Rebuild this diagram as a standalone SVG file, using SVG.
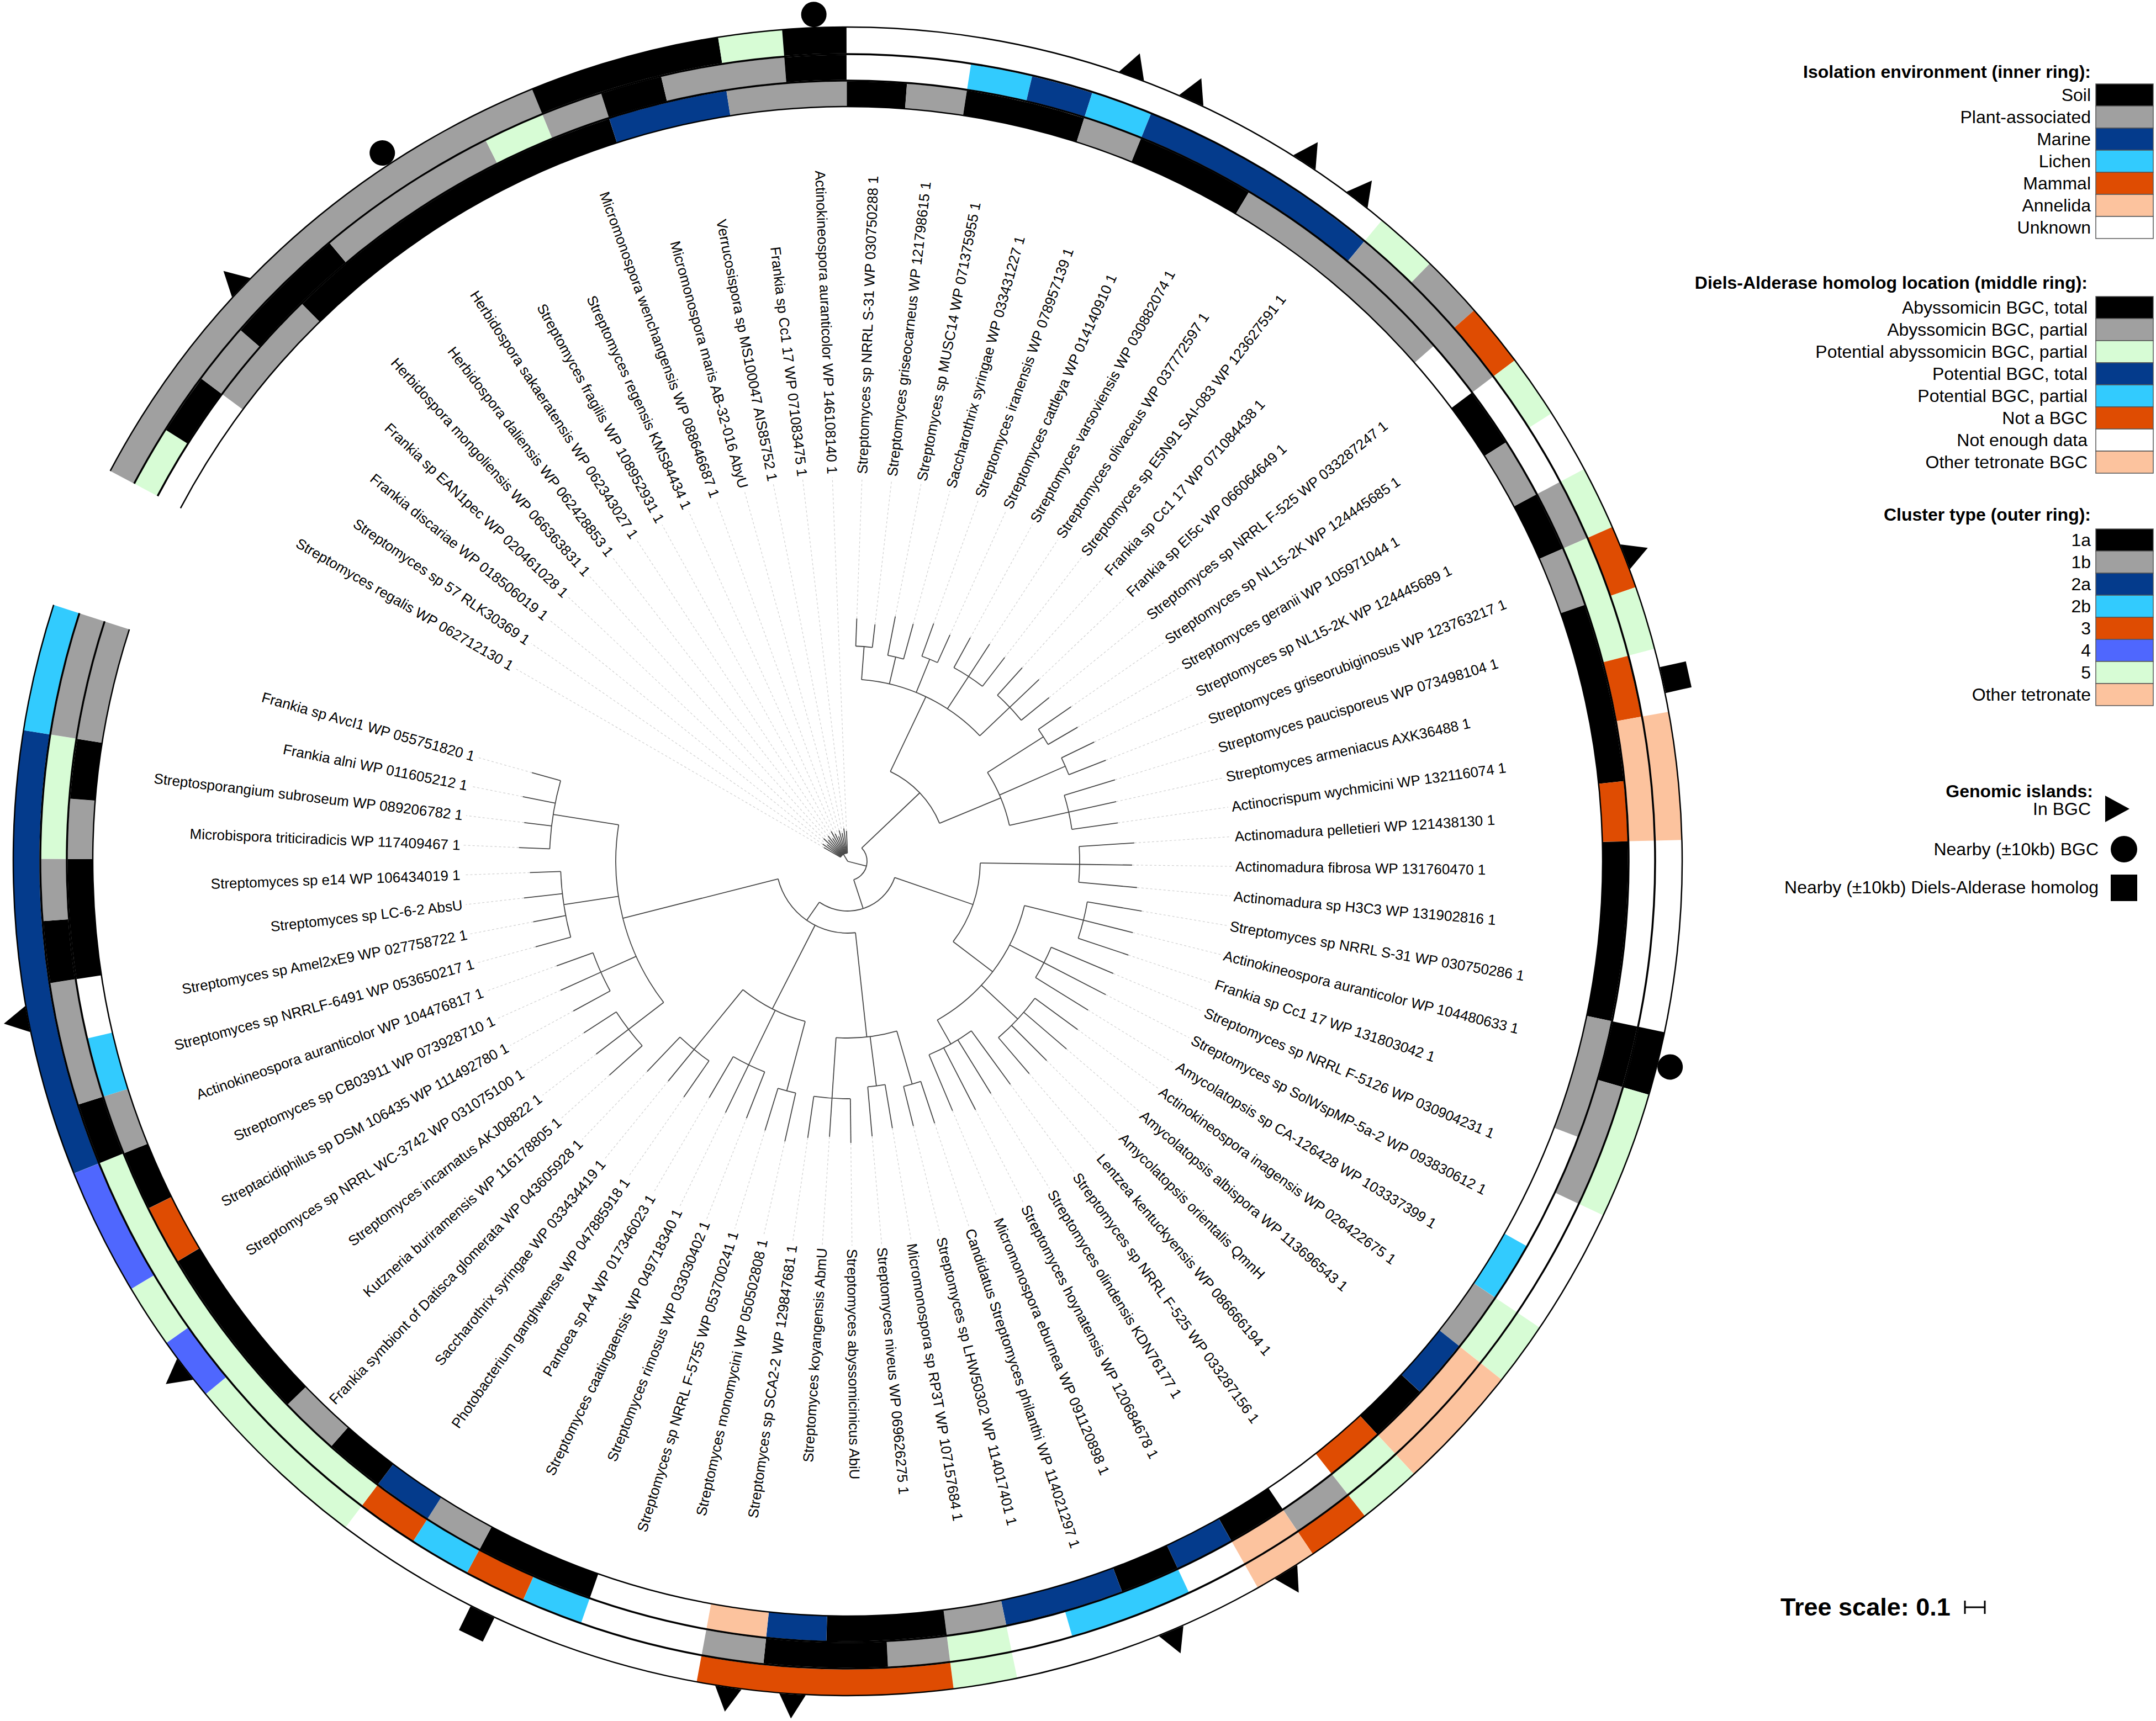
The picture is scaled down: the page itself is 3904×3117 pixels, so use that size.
<svg xmlns="http://www.w3.org/2000/svg" xmlns:xlink="http://www.w3.org/1999/xlink" width="3904" height="3117" viewBox="0 0 3904 3117">
<style>
.lbl{font-family:"Liberation Sans",Arial,sans-serif;font-size:26px;fill:#000;dominant-baseline:central}
.le{text-anchor:end}
.tr{stroke:#484848;stroke-width:1.8;fill:none}
.dt{stroke:#cfcfcf;stroke-width:1.2;stroke-dasharray:4 4;fill:none}
.k{stroke:#000}.g{stroke:#a0a0a0}.db{stroke:#043b8c}.lb{stroke:#32cbfe}.or{stroke:#df4c02}.lo{stroke:#fcc39e}.mb{stroke:#4f67fe}.lg{stroke:#d7fcd5}
.fk{fill:#000}.fg{fill:#a0a0a0}.fdb{fill:#043b8c}.flb{fill:#32cbfe}.for{fill:#df4c02}.flo{fill:#fcc39e}.fmb{fill:#4f67fe}.flg{fill:#d7fcd5}.fw{fill:#fff}
.sw{stroke:#555;stroke-width:1.5}
.leg{font-family:"Liberation Sans",Arial,sans-serif;font-size:32px;text-anchor:end;fill:#000}
.legt{font-weight:bold}
.ring{fill:none}
</style>
<defs>
<path id="pO" pathLength="360" d="M1487,0A1487,1487 0 1 1 -1487,0A1487,1487 0 1 1 1487,0"/>
<path id="pM" pathLength="360" d="M1438,0A1438,1438 0 1 1 -1438,0A1438,1438 0 1 1 1438,0"/>
<path id="pI" pathLength="360" d="M1390,0A1390,1390 0 1 1 -1390,0A1390,1390 0 1 1 1390,0"/>
<path id="tri" d="M1512,-24L1556,0L1512,24Z"/>
</defs>
<rect width="3904" height="3117" fill="#fff"/>
<g transform="translate(1535,1560)">
<g id="ring-outer" class="ring" stroke-width="47">
<use href="#pO" class="g" stroke-dasharray="39.87 360" transform="rotate(207.90)"/>
<use href="#pO" class="k" stroke-dasharray="13.29 360" transform="rotate(247.77)"/>
<use href="#pO" class="lg" stroke-dasharray="4.43 360" transform="rotate(261.06)"/>
<use href="#pO" class="k" stroke-dasharray="4.43 360" transform="rotate(265.49)"/>
<use href="#pO" class="lg" stroke-dasharray="4.43 360" transform="rotate(309.80)"/>
<use href="#pO" class="g" stroke-dasharray="4.43 360" transform="rotate(314.23)"/>
<use href="#pO" class="or" stroke-dasharray="4.43 360" transform="rotate(318.66)"/>
<use href="#pO" class="lg" stroke-dasharray="4.43 360" transform="rotate(323.09)"/>
<use href="#pO" class="lg" stroke-dasharray="4.43 360" transform="rotate(331.95)"/>
<use href="#pO" class="or" stroke-dasharray="4.43 360" transform="rotate(336.38)"/>
<use href="#pO" class="lg" stroke-dasharray="4.43 360" transform="rotate(340.81)"/>
<use href="#pO" class="lo" stroke-dasharray="8.86 360" transform="rotate(349.67)"/>
<use href="#pO" class="k" stroke-dasharray="4.43 360" transform="rotate(371.82)"/>
<use href="#pO" class="lg" stroke-dasharray="8.86 360" transform="rotate(376.25)"/>
<use href="#pO" class="lg" stroke-dasharray="4.43 360" transform="rotate(393.98)"/>
<use href="#pO" class="lo" stroke-dasharray="8.86 360" transform="rotate(398.41)"/>
<use href="#pO" class="lg" stroke-dasharray="4.43 360" transform="rotate(407.27)"/>
<use href="#pO" class="or" stroke-dasharray="4.43 360" transform="rotate(411.70)"/>
<use href="#pO" class="lo" stroke-dasharray="4.43 360" transform="rotate(416.13)"/>
<use href="#pO" class="lg" stroke-dasharray="4.43 360" transform="rotate(438.28)"/>
<use href="#pO" class="or" stroke-dasharray="17.72 360" transform="rotate(442.71)"/>
<use href="#pO" class="lg" stroke-dasharray="13.29 360" transform="rotate(487.01)"/>
<use href="#pO" class="mb" stroke-dasharray="4.43 360" transform="rotate(500.31)"/>
<use href="#pO" class="lg" stroke-dasharray="4.43 360" transform="rotate(504.74)"/>
<use href="#pO" class="mb" stroke-dasharray="8.86 360" transform="rotate(509.17)"/>
<use href="#pO" class="db" stroke-dasharray="31.01 360" transform="rotate(518.03)"/>
<use href="#pO" class="lb" stroke-dasharray="8.86 360" transform="rotate(549.04)"/>
</g>
<g id="ring-middle" class="ring" stroke-width="45">
<use href="#pM" class="lg" stroke-dasharray="4.43 360" transform="rotate(207.90)"/>
<use href="#pM" class="k" stroke-dasharray="4.43 360" transform="rotate(212.33)"/>
<use href="#pM" class="g" stroke-dasharray="4.43 360" transform="rotate(216.76)"/>
<use href="#pM" class="k" stroke-dasharray="8.86 360" transform="rotate(221.19)"/>
<use href="#pM" class="g" stroke-dasharray="13.29 360" transform="rotate(230.05)"/>
<use href="#pM" class="lg" stroke-dasharray="4.43 360" transform="rotate(243.34)"/>
<use href="#pM" class="g" stroke-dasharray="4.43 360" transform="rotate(247.77)"/>
<use href="#pM" class="k" stroke-dasharray="4.43 360" transform="rotate(252.20)"/>
<use href="#pM" class="g" stroke-dasharray="8.86 360" transform="rotate(256.63)"/>
<use href="#pM" class="k" stroke-dasharray="4.43 360" transform="rotate(265.49)"/>
<use href="#pM" class="lb" stroke-dasharray="4.43 360" transform="rotate(278.79)"/>
<use href="#pM" class="db" stroke-dasharray="4.43 360" transform="rotate(283.22)"/>
<use href="#pM" class="lb" stroke-dasharray="4.43 360" transform="rotate(287.65)"/>
<use href="#pM" class="db" stroke-dasharray="17.72 360" transform="rotate(292.08)"/>
<use href="#pM" class="g" stroke-dasharray="13.29 360" transform="rotate(309.80)"/>
<use href="#pM" class="g" stroke-dasharray="4.43 360" transform="rotate(331.95)"/>
<use href="#pM" class="lg" stroke-dasharray="8.86 360" transform="rotate(336.38)"/>
<use href="#pM" class="or" stroke-dasharray="4.43 360" transform="rotate(345.24)"/>
<use href="#pM" class="lo" stroke-dasharray="8.86 360" transform="rotate(349.67)"/>
<use href="#pM" class="k" stroke-dasharray="4.43 360" transform="rotate(371.82)"/>
<use href="#pM" class="g" stroke-dasharray="8.86 360" transform="rotate(376.25)"/>
<use href="#pM" class="lg" stroke-dasharray="4.43 360" transform="rotate(393.98)"/>
<use href="#pM" class="lo" stroke-dasharray="8.86 360" transform="rotate(398.41)"/>
<use href="#pM" class="lg" stroke-dasharray="4.43 360" transform="rotate(407.27)"/>
<use href="#pM" class="g" stroke-dasharray="4.43 360" transform="rotate(411.70)"/>
<use href="#pM" class="lo" stroke-dasharray="4.43 360" transform="rotate(416.13)"/>
<use href="#pM" class="lb" stroke-dasharray="8.86 360" transform="rotate(424.99)"/>
<use href="#pM" class="lg" stroke-dasharray="4.43 360" transform="rotate(438.28)"/>
<use href="#pM" class="g" stroke-dasharray="4.43 360" transform="rotate(442.71)"/>
<use href="#pM" class="k" stroke-dasharray="8.86 360" transform="rotate(447.14)"/>
<use href="#pM" class="g" stroke-dasharray="4.43 360" transform="rotate(456.00)"/>
<use href="#pM" class="lb" stroke-dasharray="4.43 360" transform="rotate(469.29)"/>
<use href="#pM" class="or" stroke-dasharray="4.43 360" transform="rotate(473.72)"/>
<use href="#pM" class="lb" stroke-dasharray="4.43 360" transform="rotate(478.15)"/>
<use href="#pM" class="or" stroke-dasharray="4.43 360" transform="rotate(482.58)"/>
<use href="#pM" class="lg" stroke-dasharray="31.01 360" transform="rotate(487.01)"/>
<use href="#pM" class="k" stroke-dasharray="4.43 360" transform="rotate(518.03)"/>
<use href="#pM" class="g" stroke-dasharray="8.86 360" transform="rotate(522.46)"/>
<use href="#pM" class="k" stroke-dasharray="4.43 360" transform="rotate(531.32)"/>
<use href="#pM" class="g" stroke-dasharray="4.43 360" transform="rotate(535.75)"/>
<use href="#pM" class="lg" stroke-dasharray="8.86 360" transform="rotate(540.18)"/>
<use href="#pM" class="g" stroke-dasharray="8.86 360" transform="rotate(549.04)"/>
</g>
<g id="ring-inner" class="ring" stroke-width="45">
<use href="#pI" class="g" stroke-dasharray="8.86 360" transform="rotate(216.76)"/>
<use href="#pI" class="k" stroke-dasharray="26.58 360" transform="rotate(225.62)"/>
<use href="#pI" class="db" stroke-dasharray="8.86 360" transform="rotate(252.20)"/>
<use href="#pI" class="g" stroke-dasharray="8.86 360" transform="rotate(261.06)"/>
<use href="#pI" class="k" stroke-dasharray="4.43 360" transform="rotate(269.93)"/>
<use href="#pI" class="g" stroke-dasharray="4.43 360" transform="rotate(274.36)"/>
<use href="#pI" class="k" stroke-dasharray="8.86 360" transform="rotate(278.79)"/>
<use href="#pI" class="g" stroke-dasharray="4.43 360" transform="rotate(287.65)"/>
<use href="#pI" class="k" stroke-dasharray="8.86 360" transform="rotate(292.08)"/>
<use href="#pI" class="g" stroke-dasharray="17.72 360" transform="rotate(300.94)"/>
<use href="#pI" class="k" stroke-dasharray="4.43 360" transform="rotate(323.09)"/>
<use href="#pI" class="g" stroke-dasharray="4.43 360" transform="rotate(327.52)"/>
<use href="#pI" class="k" stroke-dasharray="4.43 360" transform="rotate(331.95)"/>
<use href="#pI" class="g" stroke-dasharray="4.43 360" transform="rotate(336.38)"/>
<use href="#pI" class="k" stroke-dasharray="13.29 360" transform="rotate(340.81)"/>
<use href="#pI" class="or" stroke-dasharray="4.43 360" transform="rotate(354.10)"/>
<use href="#pI" class="k" stroke-dasharray="13.29 360" transform="rotate(358.53)"/>
<use href="#pI" class="g" stroke-dasharray="8.86 360" transform="rotate(371.82)"/>
<use href="#pI" class="lb" stroke-dasharray="4.43 360" transform="rotate(389.55)"/>
<use href="#pI" class="g" stroke-dasharray="4.43 360" transform="rotate(393.98)"/>
<use href="#pI" class="db" stroke-dasharray="4.43 360" transform="rotate(398.41)"/>
<use href="#pI" class="k" stroke-dasharray="4.43 360" transform="rotate(402.84)"/>
<use href="#pI" class="or" stroke-dasharray="4.43 360" transform="rotate(407.27)"/>
<use href="#pI" class="k" stroke-dasharray="4.43 360" transform="rotate(416.13)"/>
<use href="#pI" class="db" stroke-dasharray="4.43 360" transform="rotate(420.56)"/>
<use href="#pI" class="k" stroke-dasharray="4.43 360" transform="rotate(424.99)"/>
<use href="#pI" class="db" stroke-dasharray="8.86 360" transform="rotate(429.42)"/>
<use href="#pI" class="g" stroke-dasharray="4.43 360" transform="rotate(438.28)"/>
<use href="#pI" class="k" stroke-dasharray="8.86 360" transform="rotate(442.71)"/>
<use href="#pI" class="db" stroke-dasharray="4.43 360" transform="rotate(451.57)"/>
<use href="#pI" class="lo" stroke-dasharray="4.43 360" transform="rotate(456.00)"/>
<use href="#pI" class="k" stroke-dasharray="8.86 360" transform="rotate(469.29)"/>
<use href="#pI" class="g" stroke-dasharray="4.43 360" transform="rotate(478.15)"/>
<use href="#pI" class="db" stroke-dasharray="4.43 360" transform="rotate(482.58)"/>
<use href="#pI" class="k" stroke-dasharray="4.43 360" transform="rotate(487.01)"/>
<use href="#pI" class="g" stroke-dasharray="4.43 360" transform="rotate(491.44)"/>
<use href="#pI" class="k" stroke-dasharray="13.29 360" transform="rotate(495.87)"/>
<use href="#pI" class="or" stroke-dasharray="4.43 360" transform="rotate(509.17)"/>
<use href="#pI" class="k" stroke-dasharray="4.43 360" transform="rotate(513.60)"/>
<use href="#pI" class="g" stroke-dasharray="4.43 360" transform="rotate(518.03)"/>
<use href="#pI" class="lb" stroke-dasharray="4.43 360" transform="rotate(522.46)"/>
<use href="#pI" class="k" stroke-dasharray="8.86 360" transform="rotate(531.32)"/>
<use href="#pI" class="g" stroke-dasharray="4.43 360" transform="rotate(540.18)"/>
<use href="#pI" class="k" stroke-dasharray="4.43 360" transform="rotate(544.61)"/>
<use href="#pI" class="g" stroke-dasharray="8.86 360" transform="rotate(549.04)"/>
</g>
<g id="ring-lines" fill="none" stroke="#000" transform="rotate(207.9)">
<path pathLength="360" stroke-dasharray="350 360" stroke-width="2.5" d="M1511,0A1511,1511 0 1 1 -1511,0A1511,1511 0 1 1 1511,0"/>
<path pathLength="360" stroke-dasharray="350 360" stroke-width="3.5" d="M1462,0A1462,1462 0 1 1 -1462,0A1462,1462 0 1 1 1462,0"/>
<path pathLength="360" stroke-dasharray="350 360" stroke-width="3.5" d="M1414,0A1414,1414 0 1 1 -1414,0A1414,1414 0 1 1 1414,0"/>
<path pathLength="360" stroke-dasharray="350 360" stroke-width="2.5" d="M1367,0A1367,1367 0 1 1 -1367,0A1367,1367 0 1 1 1367,0"/>
</g>
<g id="markers" fill="#000">
<use href="#tri" transform="rotate(223.41)"/>
<use href="#tri" transform="rotate(289.87)"/>
<use href="#tri" transform="rotate(294.30)"/>
<use href="#tri" transform="rotate(303.16)"/>
<use href="#tri" transform="rotate(307.59)"/>
<use href="#tri" transform="rotate(338.60)"/>
<use href="#tri" transform="rotate(418.34)"/>
<use href="#tri" transform="rotate(427.21)"/>
<use href="#tri" transform="rotate(453.79)"/>
<use href="#tri" transform="rotate(458.22)"/>
<use href="#tri" transform="rotate(502.52)"/>
<use href="#tri" transform="rotate(529.11)"/>
<circle cx="1535" cy="0" r="23" transform="rotate(236.70)"/>
<circle cx="1535" cy="0" r="23" transform="rotate(267.71)"/>
<circle cx="1535" cy="0" r="23" transform="rotate(374.04)"/>
<rect x="1512" y="-24" width="48" height="48" transform="rotate(347.46)"/>
<rect x="1512" y="-24" width="48" height="48" transform="rotate(475.94)"/>
</g>
<g id="tree">
<g class="tr">
<path transform="rotate(238.9)" d="M0,0H15"/>
<path transform="rotate(374.2)" d="M0,0H35"/>
<path transform="rotate(316.45)" d="M35,0H180"/>
<path transform="rotate(431.9)" d="M35,0H90"/>
<path transform="rotate(295.4)" d="M180,0H330"/>
<path transform="rotate(337.5)" d="M180,0H300"/>
<path transform="rotate(274.36)" d="M330,0H390"/>
<path transform="rotate(283.22)" d="M330,0H380"/>
<path transform="rotate(292.08)" d="M330,0H395"/>
<path transform="rotate(303.16)" d="M330,0H400"/>
<path transform="rotate(316.45)" d="M330,0H405"/>
<path transform="rotate(327.53)" d="M300,0H420"/>
<path transform="rotate(336.39)" d="M300,0H430"/>
<path transform="rotate(347.46)" d="M300,0H410"/>
<path transform="rotate(379.03)" d="M90,0H240"/>
<path transform="rotate(484.8)" d="M90,0H130"/>
<path transform="rotate(360.75)" d="M240,0H420"/>
<path transform="rotate(397.3)" d="M240,0H330"/>
<path transform="rotate(374.04)" d="M330,0H440"/>
<path transform="rotate(387.33)" d="M330,0H400"/>
<path transform="rotate(402.84)" d="M330,0H420"/>
<path transform="rotate(420.56)" d="M330,0H380"/>
<path transform="rotate(443.8)" d="M130,0H320"/>
<path transform="rotate(477.05)" d="M130,0H300"/>
<path transform="rotate(525.8)" d="M130,0H420"/>
<path transform="rotate(433.86)" d="M320,0H420"/>
<path transform="rotate(442.72)" d="M320,0H410"/>
<path transform="rotate(453.79)" d="M320,0H430"/>
<path transform="rotate(464.87)" d="M300,0H430"/>
<path transform="rotate(475.94)" d="M300,0H410"/>
<path transform="rotate(489.23)" d="M300,0H440"/>
<path transform="rotate(502.52)" d="M420,0H500"/>
<path transform="rotate(515.81)" d="M420,0H490"/>
<path transform="rotate(531.33)" d="M420,0H520"/>
<path transform="rotate(549.05)" d="M420,0H540"/>
<path pathLength="360" stroke-dasharray="57.59 360" transform="rotate(210.12)" d="M15,0A15,15 0 1 1 -15,0A15,15 0 1 1 15,0"/>
<path pathLength="360" stroke-dasharray="115.45 360" transform="rotate(316.45)" d="M35,0A35,35 0 1 1 -35,0A35,35 0 1 1 35,0"/>
<path pathLength="360" stroke-dasharray="42.1 360" transform="rotate(295.4)" d="M180,0A180,180 0 1 1 -180,0A180,180 0 1 1 180,0"/>
<path pathLength="360" stroke-dasharray="105.77 360" transform="rotate(379.03)" d="M90,0A90,90 0 1 1 -90,0A90,90 0 1 1 90,0"/>
<path pathLength="360" stroke-dasharray="42.09 360" transform="rotate(274.36)" d="M330,0A330,330 0 1 1 -330,0A330,330 0 1 1 330,0"/>
<path pathLength="360" stroke-dasharray="19.93 360" transform="rotate(327.53)" d="M300,0A300,300 0 1 1 -300,0A300,300 0 1 1 300,0"/>
<path pathLength="360" stroke-dasharray="4.43 360" transform="rotate(272.14)" d="M390,0A390,390 0 1 1 -390,0A390,390 0 1 1 390,0"/>
<path pathLength="360" stroke-dasharray="4.43 360" transform="rotate(281.00)" d="M380,0A380,380 0 1 1 -380,0A380,380 0 1 1 380,0"/>
<path pathLength="360" stroke-dasharray="4.43 360" transform="rotate(289.87)" d="M395,0A395,395 0 1 1 -395,0A395,395 0 1 1 395,0"/>
<path pathLength="360" stroke-dasharray="8.86 360" transform="rotate(298.73)" d="M400,0A400,400 0 1 1 -400,0A400,400 0 1 1 400,0"/>
<path pathLength="360" stroke-dasharray="8.86 360" transform="rotate(312.02)" d="M405,0A405,405 0 1 1 -405,0A405,405 0 1 1 405,0"/>
<path pathLength="360" stroke-dasharray="4.43 360" transform="rotate(325.31)" d="M420,0A420,420 0 1 1 -420,0A420,420 0 1 1 420,0"/>
<path pathLength="360" stroke-dasharray="4.43 360" transform="rotate(334.17)" d="M430,0A430,430 0 1 1 -430,0A430,430 0 1 1 430,0"/>
<path pathLength="360" stroke-dasharray="8.86 360" transform="rotate(343.03)" d="M410,0A410,410 0 1 1 -410,0A410,410 0 1 1 410,0"/>
<path pathLength="360" stroke-dasharray="36.55 360" transform="rotate(360.75)" d="M240,0A240,240 0 1 1 -240,0A240,240 0 1 1 240,0"/>
<path pathLength="360" stroke-dasharray="82 360" transform="rotate(443.8)" d="M130,0A130,130 0 1 1 -130,0A130,130 0 1 1 130,0"/>
<path pathLength="360" stroke-dasharray="8.86 360" transform="rotate(356.32)" d="M420,0A420,420 0 1 1 -420,0A420,420 0 1 1 420,0"/>
<path pathLength="360" stroke-dasharray="46.52 360" transform="rotate(374.04)" d="M330,0A330,330 0 1 1 -330,0A330,330 0 1 1 330,0"/>
<path pathLength="360" stroke-dasharray="8.86 360" transform="rotate(369.61)" d="M440,0A440,440 0 1 1 -440,0A440,440 0 1 1 440,0"/>
<path pathLength="360" stroke-dasharray="8.86 360" transform="rotate(382.90)" d="M400,0A400,400 0 1 1 -400,0A400,400 0 1 1 400,0"/>
<path pathLength="360" stroke-dasharray="13.29 360" transform="rotate(396.19)" d="M420,0A420,420 0 1 1 -420,0A420,420 0 1 1 420,0"/>
<path pathLength="360" stroke-dasharray="13.3 360" transform="rotate(413.91)" d="M380,0A380,380 0 1 1 -380,0A380,380 0 1 1 380,0"/>
<path pathLength="360" stroke-dasharray="19.93 360" transform="rotate(433.86)" d="M320,0A320,320 0 1 1 -320,0A320,320 0 1 1 320,0"/>
<path pathLength="360" stroke-dasharray="24.36 360" transform="rotate(464.87)" d="M300,0A300,300 0 1 1 -300,0A300,300 0 1 1 300,0"/>
<path pathLength="360" stroke-dasharray="46.53 360" transform="rotate(502.52)" d="M420,0A420,420 0 1 1 -420,0A420,420 0 1 1 420,0"/>
<path pathLength="360" stroke-dasharray="4.43 360" transform="rotate(431.64)" d="M420,0A420,420 0 1 1 -420,0A420,420 0 1 1 420,0"/>
<path pathLength="360" stroke-dasharray="4.43 360" transform="rotate(440.50)" d="M410,0A410,410 0 1 1 -410,0A410,410 0 1 1 410,0"/>
<path pathLength="360" stroke-dasharray="8.86 360" transform="rotate(449.36)" d="M430,0A430,430 0 1 1 -430,0A430,430 0 1 1 430,0"/>
<path pathLength="360" stroke-dasharray="4.43 360" transform="rotate(462.65)" d="M430,0A430,430 0 1 1 -430,0A430,430 0 1 1 430,0"/>
<path pathLength="360" stroke-dasharray="8.86 360" transform="rotate(471.51)" d="M410,0A410,410 0 1 1 -410,0A410,410 0 1 1 410,0"/>
<path pathLength="360" stroke-dasharray="8.86 360" transform="rotate(484.80)" d="M440,0A440,440 0 1 1 -440,0A440,440 0 1 1 440,0"/>
<path pathLength="360" stroke-dasharray="8.86 360" transform="rotate(498.09)" d="M500,0A500,500 0 1 1 -500,0A500,500 0 1 1 500,0"/>
<path pathLength="360" stroke-dasharray="8.86 360" transform="rotate(511.38)" d="M490,0A490,490 0 1 1 -490,0A490,490 0 1 1 490,0"/>
<path pathLength="360" stroke-dasharray="13.29 360" transform="rotate(524.68)" d="M520,0A520,520 0 1 1 -520,0A520,520 0 1 1 520,0"/>
<path pathLength="360" stroke-dasharray="13.29 360" transform="rotate(542.40)" d="M540,0A540,540 0 1 1 -540,0A540,540 0 1 1 540,0"/>
</g>
<g transform="rotate(210.12)"><path class="tr" d="M15,0H50"/><path class="dt" d="M50,0H696"/></g>
<g transform="rotate(214.55)"><path class="tr" d="M15,0H55"/><path class="dt" d="M55,0H696"/></g>
<g transform="rotate(218.98)"><path class="tr" d="M15,0H48"/><path class="dt" d="M48,0H696"/></g>
<g transform="rotate(223.41)"><path class="tr" d="M15,0H60"/><path class="dt" d="M60,0H696"/></g>
<g transform="rotate(227.84)"><path class="tr" d="M15,0H52"/><path class="dt" d="M52,0H696"/></g>
<g transform="rotate(232.27)"><path class="tr" d="M15,0H58"/><path class="dt" d="M58,0H696"/></g>
<g transform="rotate(236.70)"><path class="tr" d="M15,0H50"/><path class="dt" d="M50,0H696"/></g>
<g transform="rotate(241.13)"><path class="tr" d="M15,0H62"/><path class="dt" d="M62,0H696"/></g>
<g transform="rotate(245.56)"><path class="tr" d="M15,0H55"/><path class="dt" d="M55,0H696"/></g>
<g transform="rotate(249.99)"><path class="tr" d="M15,0H48"/><path class="dt" d="M48,0H696"/></g>
<g transform="rotate(254.42)"><path class="tr" d="M15,0H58"/><path class="dt" d="M58,0H696"/></g>
<g transform="rotate(258.85)"><path class="tr" d="M15,0H52"/><path class="dt" d="M52,0H696"/></g>
<g transform="rotate(263.28)"><path class="tr" d="M15,0H60"/><path class="dt" d="M60,0H696"/></g>
<g transform="rotate(267.71)"><path class="tr" d="M15,0H55"/><path class="dt" d="M55,0H696"/></g>
<g transform="rotate(272.14)"><path class="tr" d="M390,0H440"/><path class="dt" d="M440,0H696"/></g>
<g transform="rotate(276.57)"><path class="tr" d="M390,0H432"/><path class="dt" d="M432,0H696"/></g>
<g transform="rotate(281.00)"><path class="tr" d="M380,0H452"/><path class="dt" d="M452,0H696"/></g>
<g transform="rotate(285.43)"><path class="tr" d="M380,0H446"/><path class="dt" d="M446,0H696"/></g>
<g transform="rotate(289.87)"><path class="tr" d="M395,0H458"/><path class="dt" d="M458,0H696"/></g>
<g transform="rotate(294.30)"><path class="tr" d="M395,0H450"/><path class="dt" d="M450,0H696"/></g>
<g transform="rotate(298.73)"><path class="tr" d="M400,0H462"/><path class="dt" d="M462,0H696"/></g>
<g transform="rotate(303.16)"><path class="tr" d="M400,0H470"/><path class="dt" d="M470,0H696"/></g>
<g transform="rotate(307.59)"><path class="tr" d="M400,0H466"/><path class="dt" d="M466,0H696"/></g>
<g transform="rotate(312.02)"><path class="tr" d="M405,0H472"/><path class="dt" d="M472,0H696"/></g>
<g transform="rotate(316.45)"><path class="tr" d="M405,0H478"/><path class="dt" d="M478,0H696"/></g>
<g transform="rotate(320.88)"><path class="tr" d="M405,0H470"/><path class="dt" d="M470,0H696"/></g>
<g transform="rotate(325.31)"><path class="tr" d="M420,0H492"/><path class="dt" d="M492,0H696"/></g>
<g transform="rotate(329.74)"><path class="tr" d="M420,0H482"/><path class="dt" d="M482,0H696"/></g>
<g transform="rotate(334.17)"><path class="tr" d="M430,0H496"/><path class="dt" d="M496,0H696"/></g>
<g transform="rotate(338.60)"><path class="tr" d="M430,0H502"/><path class="dt" d="M502,0H696"/></g>
<g transform="rotate(343.03)"><path class="tr" d="M410,0H506"/><path class="dt" d="M506,0H696"/></g>
<g transform="rotate(347.46)"><path class="tr" d="M410,0H498"/><path class="dt" d="M498,0H696"/></g>
<g transform="rotate(351.89)"><path class="tr" d="M410,0H494"/><path class="dt" d="M494,0H696"/></g>
<g transform="rotate(356.32)"><path class="tr" d="M420,0H520"/><path class="dt" d="M520,0H696"/></g>
<g transform="rotate(360.75)"><path class="tr" d="M420,0H515"/><path class="dt" d="M515,0H696"/></g>
<g transform="rotate(365.18)"><path class="tr" d="M420,0H526"/><path class="dt" d="M526,0H696"/></g>
<g transform="rotate(369.61)"><path class="tr" d="M440,0H540"/><path class="dt" d="M540,0H696"/></g>
<g transform="rotate(374.04)"><path class="tr" d="M440,0H532"/><path class="dt" d="M532,0H696"/></g>
<g transform="rotate(378.47)"><path class="tr" d="M440,0H536"/><path class="dt" d="M536,0H696"/></g>
<g transform="rotate(382.90)"><path class="tr" d="M400,0H522"/><path class="dt" d="M522,0H696"/></g>
<g transform="rotate(387.33)"><path class="tr" d="M400,0H526"/><path class="dt" d="M526,0H696"/></g>
<g transform="rotate(391.76)"><path class="tr" d="M400,0H512"/><path class="dt" d="M512,0H696"/></g>
<g transform="rotate(396.19)"><path class="tr" d="M420,0H516"/><path class="dt" d="M516,0H696"/></g>
<g transform="rotate(400.62)"><path class="tr" d="M420,0H522"/><path class="dt" d="M522,0H696"/></g>
<g transform="rotate(405.05)"><path class="tr" d="M420,0H510"/><path class="dt" d="M510,0H696"/></g>
<g transform="rotate(409.48)"><path class="tr" d="M420,0H506"/><path class="dt" d="M506,0H696"/></g>
<g transform="rotate(413.91)"><path class="tr" d="M380,0H500"/><path class="dt" d="M500,0H696"/></g>
<g transform="rotate(418.34)"><path class="tr" d="M380,0H494"/><path class="dt" d="M494,0H696"/></g>
<g transform="rotate(422.78)"><path class="tr" d="M380,0H506"/><path class="dt" d="M506,0H696"/></g>
<g transform="rotate(427.21)"><path class="tr" d="M380,0H490"/><path class="dt" d="M490,0H696"/></g>
<g transform="rotate(431.64)"><path class="tr" d="M420,0H500"/><path class="dt" d="M500,0H696"/></g>
<g transform="rotate(436.07)"><path class="tr" d="M420,0H494"/><path class="dt" d="M494,0H696"/></g>
<g transform="rotate(440.50)"><path class="tr" d="M410,0H490"/><path class="dt" d="M490,0H696"/></g>
<g transform="rotate(444.93)"><path class="tr" d="M410,0H500"/><path class="dt" d="M500,0H696"/></g>
<g transform="rotate(449.36)"><path class="tr" d="M430,0H510"/><path class="dt" d="M510,0H696"/></g>
<g transform="rotate(453.79)"><path class="tr" d="M430,0H500"/><path class="dt" d="M500,0H696"/></g>
<g transform="rotate(458.22)"><path class="tr" d="M430,0H506"/><path class="dt" d="M506,0H696"/></g>
<g transform="rotate(462.65)"><path class="tr" d="M430,0H520"/><path class="dt" d="M520,0H696"/></g>
<g transform="rotate(467.08)"><path class="tr" d="M430,0H510"/><path class="dt" d="M510,0H696"/></g>
<g transform="rotate(471.51)"><path class="tr" d="M410,0H500"/><path class="dt" d="M500,0H696"/></g>
<g transform="rotate(475.94)"><path class="tr" d="M410,0H506"/><path class="dt" d="M506,0H696"/></g>
<g transform="rotate(480.37)"><path class="tr" d="M410,0H496"/><path class="dt" d="M496,0H696"/></g>
<g transform="rotate(484.80)"><path class="tr" d="M440,0H520"/><path class="dt" d="M520,0H696"/></g>
<g transform="rotate(489.23)"><path class="tr" d="M440,0H514"/><path class="dt" d="M514,0H696"/></g>
<g transform="rotate(493.66)"><path class="tr" d="M440,0H526"/><path class="dt" d="M526,0H696"/></g>
<g transform="rotate(498.09)"><path class="tr" d="M500,0H580"/><path class="dt" d="M580,0H696"/></g>
<g transform="rotate(502.52)"><path class="tr" d="M500,0H574"/><path class="dt" d="M574,0H696"/></g>
<g transform="rotate(506.95)"><path class="tr" d="M500,0H570"/><path class="dt" d="M570,0H696"/></g>
<g transform="rotate(511.38)"><path class="tr" d="M490,0H566"/><path class="dt" d="M566,0H696"/></g>
<g transform="rotate(515.81)"><path class="tr" d="M490,0H570"/><path class="dt" d="M570,0H696"/></g>
<g transform="rotate(520.24)"><path class="tr" d="M490,0H560"/><path class="dt" d="M560,0H696"/></g>
<g transform="rotate(524.68)"><path class="tr" d="M520,0H586"/><path class="dt" d="M586,0H696"/></g>
<g transform="rotate(529.11)"><path class="tr" d="M520,0H580"/><path class="dt" d="M580,0H696"/></g>
<g transform="rotate(533.54)"><path class="tr" d="M520,0H590"/><path class="dt" d="M590,0H696"/></g>
<g transform="rotate(537.97)"><path class="tr" d="M520,0H576"/><path class="dt" d="M576,0H696"/></g>
<g transform="rotate(542.40)"><path class="tr" d="M540,0H596"/><path class="dt" d="M596,0H696"/></g>
<g transform="rotate(546.83)"><path class="tr" d="M540,0H590"/><path class="dt" d="M590,0H696"/></g>
<g transform="rotate(551.26)"><path class="tr" d="M540,0H600"/><path class="dt" d="M600,0H696"/></g>
<g transform="rotate(555.69)"><path class="tr" d="M540,0H594"/><path class="dt" d="M594,0H696"/></g>
</g>
<g id="labels">
<g id="leaf0"><text class="lbl le" transform="rotate(210.12) translate(702,0) rotate(180)">Streptomyces regalis WP 062712130 1</text></g>
<g id="leaf1"><text class="lbl le" transform="rotate(214.55) translate(702,0) rotate(180)">Streptomyces sp 57 RLK30369 1</text></g>
<g id="leaf2"><text class="lbl le" transform="rotate(218.98) translate(702,0) rotate(180)">Frankia discariae WP 018506019 1</text></g>
<g id="leaf3"><text class="lbl le" transform="rotate(223.41) translate(702,0) rotate(180)">Frankia sp EAN1pec WP 020461028 1</text></g>
<g id="leaf4"><text class="lbl le" transform="rotate(227.84) translate(702,0) rotate(180)">Herbidospora mongoliensis WP 066363831 1</text></g>
<g id="leaf5"><text class="lbl le" transform="rotate(232.27) translate(702,0) rotate(180)">Herbidospora daliensis WP 062428853 1</text></g>
<g id="leaf6"><text class="lbl le" transform="rotate(236.70) translate(702,0) rotate(180)">Herbidospora sakaeratensis WP 062343027 1</text></g>
<g id="leaf7"><text class="lbl le" transform="rotate(241.13) translate(702,0) rotate(180)">Streptomyces fragilis WP 108952931 1</text></g>
<g id="leaf8"><text class="lbl le" transform="rotate(245.56) translate(702,0) rotate(180)">Streptomyces regensis KMS84434 1</text></g>
<g id="leaf9"><text class="lbl le" transform="rotate(249.99) translate(702,0) rotate(180)">Micromonospora wenchangensis WP 088646687 1</text></g>
<g id="leaf10"><text class="lbl le" transform="rotate(254.42) translate(702,0) rotate(180)">Micromonospora maris AB-32-016 AbyU</text></g>
<g id="leaf11"><text class="lbl le" transform="rotate(258.85) translate(702,0) rotate(180)">Verrucosispora sp MS100047 AIS85752 1</text></g>
<g id="leaf12"><text class="lbl le" transform="rotate(263.28) translate(702,0) rotate(180)">Frankia sp Cc1 17 WP 071083475 1</text></g>
<g id="leaf13"><text class="lbl le" transform="rotate(267.71) translate(702,0) rotate(180)">Actinokineospora auranticolor WP 146108140 1</text></g>
<g id="leaf14"><text class="lbl" transform="rotate(272.14) translate(702,0)">Streptomyces sp NRRL S-31 WP 030750288 1</text></g>
<g id="leaf15"><text class="lbl" transform="rotate(276.57) translate(702,0)">Streptomyces griseocarneus WP 121798615 1</text></g>
<g id="leaf16"><text class="lbl" transform="rotate(281.00) translate(702,0)">Streptomyces sp MUSC14 WP 071375955 1</text></g>
<g id="leaf17"><text class="lbl" transform="rotate(285.43) translate(702,0)">Saccharothrix syringae WP 033431227 1</text></g>
<g id="leaf18"><text class="lbl" transform="rotate(289.87) translate(702,0)">Streptomyces iranensis WP 078957139 1</text></g>
<g id="leaf19"><text class="lbl" transform="rotate(294.30) translate(702,0)">Streptomyces cattleya WP 014140910 1</text></g>
<g id="leaf20"><text class="lbl" transform="rotate(298.73) translate(702,0)">Streptomyces varsoviensis WP 030882074 1</text></g>
<g id="leaf21"><text class="lbl" transform="rotate(303.16) translate(702,0)">Streptomyces olivaceus WP 037772597 1</text></g>
<g id="leaf22"><text class="lbl" transform="rotate(307.59) translate(702,0)">Streptomyces sp E5N91 SAI-083 WP 123627591 1</text></g>
<g id="leaf23"><text class="lbl" transform="rotate(312.02) translate(702,0)">Frankia sp Cc1 17 WP 071084438 1</text></g>
<g id="leaf24"><text class="lbl" transform="rotate(316.45) translate(702,0)">Frankia sp EI5c WP 066064649 1</text></g>
<g id="leaf25"><text class="lbl" transform="rotate(320.88) translate(702,0)">Streptomyces sp NRRL F-525 WP 033287247 1</text></g>
<g id="leaf26"><text class="lbl" transform="rotate(325.31) translate(702,0)">Streptomyces sp NL15-2K WP 124445685 1</text></g>
<g id="leaf27"><text class="lbl" transform="rotate(329.74) translate(702,0)">Streptomyces geranii WP 105971044 1</text></g>
<g id="leaf28"><text class="lbl" transform="rotate(334.17) translate(702,0)">Streptomyces sp NL15-2K WP 124445689 1</text></g>
<g id="leaf29"><text class="lbl" transform="rotate(338.60) translate(702,0)">Streptomyces griseorubiginosus WP 123763217 1</text></g>
<g id="leaf30"><text class="lbl" transform="rotate(343.03) translate(702,0)">Streptomyces paucisporeus WP 073498104 1</text></g>
<g id="leaf31"><text class="lbl" transform="rotate(347.46) translate(702,0)">Streptomyces armeniacus AXK36488 1</text></g>
<g id="leaf32"><text class="lbl" transform="rotate(351.89) translate(702,0)">Actinocrispum wychmicini WP 132116074 1</text></g>
<g id="leaf33"><text class="lbl" transform="rotate(356.32) translate(702,0)">Actinomadura pelletieri WP 121438130 1</text></g>
<g id="leaf34"><text class="lbl" transform="rotate(360.75) translate(702,0)">Actinomadura fibrosa WP 131760470 1</text></g>
<g id="leaf35"><text class="lbl" transform="rotate(365.18) translate(702,0)">Actinomadura sp H3C3 WP 131902816 1</text></g>
<g id="leaf36"><text class="lbl" transform="rotate(369.61) translate(702,0)">Streptomyces sp NRRL S-31 WP 030750286 1</text></g>
<g id="leaf37"><text class="lbl" transform="rotate(374.04) translate(702,0)">Actinokineospora auranticolor WP 104480633 1</text></g>
<g id="leaf38"><text class="lbl" transform="rotate(378.47) translate(702,0)">Frankia sp Cc1 17 WP 131803042 1</text></g>
<g id="leaf39"><text class="lbl" transform="rotate(382.90) translate(702,0)">Streptomyces sp NRRL F-5126 WP 030904231 1</text></g>
<g id="leaf40"><text class="lbl" transform="rotate(387.33) translate(702,0)">Streptomyces sp SolWspMP-5a-2 WP 093830612 1</text></g>
<g id="leaf41"><text class="lbl" transform="rotate(391.76) translate(702,0)">Amycolatopsis sp CA-126428 WP 103337399 1</text></g>
<g id="leaf42"><text class="lbl" transform="rotate(396.19) translate(702,0)">Actinokineospora inagensis WP 026422675 1</text></g>
<g id="leaf43"><text class="lbl" transform="rotate(400.62) translate(702,0)">Amycolatopsis albispora WP 113696543 1</text></g>
<g id="leaf44"><text class="lbl" transform="rotate(405.05) translate(702,0)">Amycolatopsis orientalis QmnH</text></g>
<g id="leaf45"><text class="lbl" transform="rotate(409.48) translate(702,0)">Lentzea kentuckyensis WP 086666194 1</text></g>
<g id="leaf46"><text class="lbl" transform="rotate(413.91) translate(702,0)">Streptomyces sp NRRL F-525 WP 033287156 1</text></g>
<g id="leaf47"><text class="lbl" transform="rotate(418.34) translate(702,0)">Streptomyces olindensis KDN76177 1</text></g>
<g id="leaf48"><text class="lbl" transform="rotate(422.78) translate(702,0)">Streptomyces hoynatensis WP 120684678 1</text></g>
<g id="leaf49"><text class="lbl" transform="rotate(427.21) translate(702,0)">Micromonospora eburnea WP 091120898 1</text></g>
<g id="leaf50"><text class="lbl" transform="rotate(431.64) translate(702,0)">Candidatus Streptomyces philanthi WP 114021297 1</text></g>
<g id="leaf51"><text class="lbl" transform="rotate(436.07) translate(702,0)">Streptomyces sp LHW50302 WP 114017401 1</text></g>
<g id="leaf52"><text class="lbl" transform="rotate(440.50) translate(702,0)">Micromonospora sp RP3T WP 107157684 1</text></g>
<g id="leaf53"><text class="lbl" transform="rotate(444.93) translate(702,0)">Streptomyces niveus WP 069626275 1</text></g>
<g id="leaf54"><text class="lbl" transform="rotate(449.36) translate(702,0)">Streptomyces abyssomicinicus AbiU</text></g>
<g id="leaf55"><text class="lbl le" transform="rotate(453.79) translate(702,0) rotate(180)">Streptomyces koyangensis AbmU</text></g>
<g id="leaf56"><text class="lbl le" transform="rotate(458.22) translate(702,0) rotate(180)">Streptomyces sp SCA2-2 WP 129847681 1</text></g>
<g id="leaf57"><text class="lbl le" transform="rotate(462.65) translate(702,0) rotate(180)">Streptomyces monomycini WP 050502808 1</text></g>
<g id="leaf58"><text class="lbl le" transform="rotate(467.08) translate(702,0) rotate(180)">Streptomyces sp NRRL F-5755 WP 053700241 1</text></g>
<g id="leaf59"><text class="lbl le" transform="rotate(471.51) translate(702,0) rotate(180)">Streptomyces rimosus WP 033030402 1</text></g>
<g id="leaf60"><text class="lbl le" transform="rotate(475.94) translate(702,0) rotate(180)">Streptomyces caatingaensis WP 049718340 1</text></g>
<g id="leaf61"><text class="lbl le" transform="rotate(480.37) translate(702,0) rotate(180)">Pantoea sp A4 WP 017346023 1</text></g>
<g id="leaf62"><text class="lbl le" transform="rotate(484.80) translate(702,0) rotate(180)">Photobacterium ganghwense WP 047885918 1</text></g>
<g id="leaf63"><text class="lbl le" transform="rotate(489.23) translate(702,0) rotate(180)">Saccharothrix syringae WP 033434419 1</text></g>
<g id="leaf64"><text class="lbl le" transform="rotate(493.66) translate(702,0) rotate(180)">Frankia symbiont of Datisca glomerata WP 043605928 1</text></g>
<g id="leaf65"><text class="lbl le" transform="rotate(498.09) translate(702,0) rotate(180)">Kutzneria buriramensis WP 116178805 1</text></g>
<g id="leaf66"><text class="lbl le" transform="rotate(502.52) translate(702,0) rotate(180)">Streptomyces incarnatus AKJ08822 1</text></g>
<g id="leaf67"><text class="lbl le" transform="rotate(506.95) translate(702,0) rotate(180)">Streptomyces sp NRRL WC-3742 WP 031075100 1</text></g>
<g id="leaf68"><text class="lbl le" transform="rotate(511.38) translate(702,0) rotate(180)">Streptacidiphilus sp DSM 106435 WP 111492780 1</text></g>
<g id="leaf69"><text class="lbl le" transform="rotate(515.81) translate(702,0) rotate(180)">Streptomyces sp CB03911 WP 073928710 1</text></g>
<g id="leaf70"><text class="lbl le" transform="rotate(520.24) translate(702,0) rotate(180)">Actinokineospora auranticolor WP 104476817 1</text></g>
<g id="leaf71"><text class="lbl le" transform="rotate(524.68) translate(702,0) rotate(180)">Streptomyces sp NRRLF-6491 WP 053650217 1</text></g>
<g id="leaf72"><text class="lbl le" transform="rotate(529.11) translate(702,0) rotate(180)">Streptomyces sp Amel2xE9 WP 027758722 1</text></g>
<g id="leaf73"><text class="lbl le" transform="rotate(533.54) translate(702,0) rotate(180)">Streptomyces sp LC-6-2 AbsU</text></g>
<g id="leaf74"><text class="lbl le" transform="rotate(537.97) translate(702,0) rotate(180)">Streptomyces sp e14 WP 106434019 1</text></g>
<g id="leaf75"><text class="lbl le" transform="rotate(542.40) translate(702,0) rotate(180)">Microbispora triticiradicis WP 117409467 1</text></g>
<g id="leaf76"><text class="lbl le" transform="rotate(546.83) translate(702,0) rotate(180)">Streptosporangium subroseum WP 089206782 1</text></g>
<g id="leaf77"><text class="lbl le" transform="rotate(551.26) translate(702,0) rotate(180)">Frankia alni WP 011605212 1</text></g>
<g id="leaf78"><text class="lbl le" transform="rotate(555.69) translate(702,0) rotate(180)">Frankia sp AvcI1 WP 055751820 1</text></g>
</g>
</g>
<g id="legend-isolation">
<text class="leg legt" x="3786" y="141">Isolation environment (inner ring):</text>
<rect class="sw fk" x="3795" y="152" width="104" height="40"/><text class="leg" x="3786" y="183">Soil</text>
<rect class="sw fg" x="3795" y="192" width="104" height="40"/><text class="leg" x="3786" y="223">Plant-associated</text>
<rect class="sw fdb" x="3795" y="232" width="104" height="40"/><text class="leg" x="3786" y="263">Marine</text>
<rect class="sw flb" x="3795" y="272" width="104" height="40"/><text class="leg" x="3786" y="303">Lichen</text>
<rect class="sw for" x="3795" y="312" width="104" height="40"/><text class="leg" x="3786" y="343">Mammal</text>
<rect class="sw flo" x="3795" y="352" width="104" height="40"/><text class="leg" x="3786" y="383">Annelida</text>
<rect class="sw fw" x="3795" y="392" width="104" height="40"/><text class="leg" x="3786" y="423">Unknown</text>
</g>
<g id="legend-da">
<text class="leg legt" x="3780" y="523">Diels-Alderase homolog location (middle ring):</text>
<rect class="sw fk" x="3795" y="537" width="104" height="40"/><text class="leg" x="3780" y="568">Abyssomicin BGC, total</text>
<rect class="sw fg" x="3795" y="577" width="104" height="40"/><text class="leg" x="3780" y="608">Abyssomicin BGC, partial</text>
<rect class="sw flg" x="3795" y="617" width="104" height="40"/><text class="leg" x="3780" y="648">Potential abyssomicin BGC, partial</text>
<rect class="sw fdb" x="3795" y="657" width="104" height="40"/><text class="leg" x="3780" y="688">Potential BGC, total</text>
<rect class="sw flb" x="3795" y="697" width="104" height="40"/><text class="leg" x="3780" y="728">Potential BGC, partial</text>
<rect class="sw for" x="3795" y="737" width="104" height="40"/><text class="leg" x="3780" y="768">Not a BGC</text>
<rect class="sw fw" x="3795" y="777" width="104" height="40"/><text class="leg" x="3780" y="808">Not enough data</text>
<rect class="sw flo" x="3795" y="817" width="104" height="40"/><text class="leg" x="3780" y="848">Other tetronate BGC</text>
</g>
<g id="legend-cluster">
<text class="leg legt" x="3786" y="943">Cluster type (outer ring):</text>
<rect class="sw fk" x="3795" y="958" width="104" height="40"/><text class="leg" x="3786" y="989">1a</text>
<rect class="sw fg" x="3795" y="998" width="104" height="40"/><text class="leg" x="3786" y="1029">1b</text>
<rect class="sw fdb" x="3795" y="1038" width="104" height="40"/><text class="leg" x="3786" y="1069">2a</text>
<rect class="sw flb" x="3795" y="1078" width="104" height="40"/><text class="leg" x="3786" y="1109">2b</text>
<rect class="sw for" x="3795" y="1118" width="104" height="40"/><text class="leg" x="3786" y="1149">3</text>
<rect class="sw fmb" x="3795" y="1158" width="104" height="40"/><text class="leg" x="3786" y="1189">4</text>
<rect class="sw flg" x="3795" y="1198" width="104" height="40"/><text class="leg" x="3786" y="1229">5</text>
<rect class="sw flo" x="3795" y="1238" width="104" height="40"/><text class="leg" x="3786" y="1269">Other tetronate</text>
</g>
<g id="legend-islands">
<text class="leg legt" x="3790" y="1444">Genomic islands:</text>
<text class="leg" x="3786" y="1476">In BGC</text>
<polygon points="3812,1441 3856,1465 3812,1489" fill="#000"/>
<text class="leg" x="3800" y="1549">Nearby (±10kb) BGC</text>
<circle cx="3846" cy="1538" r="24" fill="#000"/>
<text class="leg" x="3800" y="1618">Nearby (±10kb) Diels-Alderase homolog</text>
<rect x="3822" y="1584" width="48" height="48" fill="#000"/>
</g>
<g id="tree-scale">
<text x="3224" y="2926" font-family="Liberation Sans, Arial, sans-serif" font-weight="bold" font-size="45">Tree scale: 0.1</text>
<path d="M3558,2899V2923M3594,2899V2923M3558,2911H3594" stroke="#000" stroke-width="3" fill="none"/>
</g>
</svg>
